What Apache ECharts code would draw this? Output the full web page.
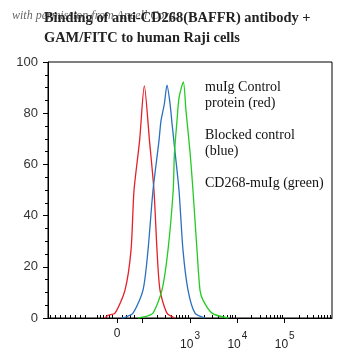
<!DOCTYPE html>
<html><head><meta charset="utf-8">
<script src="https://cdn.jsdelivr.net/npm/echarts@6/dist/echarts.min.js"></script>
<style>html,body{margin:0;padding:0;background:#fff}#c{width:350px;height:363px}</style>
</head><body><div id="c"></div>
<script>
// x positions are in axis display units (decades: 3 = 10^3, 4 = 10^4, 5 = 10^5; 0 label at ~1.458)
const redX  = [1.204,1.268,1.416,1.627,1.754,1.817,1.935,2.035,2.144,2.239,2.303,2.366,2.514,2.683];
const redY  = [0,1,1.9,10.9,26.5,49.8,69.3,90.7,69.3,49.8,26.5,10.9,1.9,0];
const blueX = [1.563,1.627,1.796,2.007,2.113,2.218,2.345,2.387,2.457,2.514,2.577,2.62,2.683,2.768,2.852,2.958,3.106,3.317];
const blueY = [0,0.3,1.9,10.9,26.5,49.8,69.3,77,83.5,91,84,76,65,49.8,26.5,10.9,1.9,0];
const greenX = [1.901,2.049,2.218,2.408,2.535,2.645,2.67,2.725,2.768,2.859,2.915,3.0,3.063,3.148,3.211,3.275,3.465,3.803];
const greenY = [0,0.5,1.9,10.9,26.5,49.8,64,77,86,92.2,81,65,49.8,26.5,10.9,7,1.9,0];

const xLabelPos = [1.458, 3, 4, 5];
const xLabelText = ['0', '10^3', '10^4', '10^5'];
const xMajorTicks = [1.458, 2, 3, 4, 5];
const xLinTicks = [0.042,0.148,0.254,0.359,0.465,0.570,0.676,0.782,1.035,1.099,1.162,1.225,1.289,1.352,1.563,1.648,1.732,1.817];
const yTicks = [0, 20, 40, 60, 80, 100];

const legendLines = ['muIg Control','protein (red)','','Blocked control','(blue)','','CD268-muIg (green)'];
const titleText = 'Binding of anti-CD268(BAFFR) antibody +\nGAM/FITC to human Raji cells';
const underText = 'with permission from Ancell Corp.';

const logMinor = [];
for (let k = 2; k <= 5; k++) for (let m = 2; m <= 9; m++) { const v = k + Math.log10(m); if (v < 6) logMinor.push(+v.toFixed(4)); }
const xMinorTicks = xLinTicks.concat(logMinor);

const zip = (a, b) => a.map((v, i) => [v, b[i]]);

const chart = echarts.init(document.getElementById('c'), null, {renderer: 'canvas'});
const baseX = {type: 'value', min: 0, max: 6, gridIndex: 0, splitLine: {show: false}};
chart.setOption({
  animation: false,
  title: [
    {text: underText, left: 12, top: 10, padding: 0, z: 1, textStyle: {fontFamily: 'Liberation Serif', fontStyle: 'italic', fontWeight: 'normal', fontSize: 12, color: '#666'}},
    {text: titleText, left: 44, top: 8, padding: 0, z: 5, textStyle: {fontFamily: 'Liberation Serif', fontWeight: 'bold', fontSize: 14.4, lineHeight: 20, color: '#222'}}
  ],
  grid: {left: 48, top: 62, right: 18, bottom: 45, show: true, borderColor: '#000', borderWidth: 1, backgroundColor: 'transparent'},
  xAxis: [
    Object.assign({}, baseX, {
      axisLine: {show: true, onZero: false, lineStyle: {color: '#000', width: 1}},
      axisTick: {show: true, length: 5, customValues: xMajorTicks, lineStyle: {color: '#000'}},
      axisLabel: {show: true, customValues: xLabelPos, margin: 10, color: '#222', fontFamily: 'Liberation Sans', fontSize: 12,
        formatter: v => { const i = xLabelPos.findIndex(p => Math.abs(p - v) < 1e-6); const t = i >= 0 ? xLabelText[i] : ''; if (t.indexOf('^') < 0) return '{b|' + t + '}'; const p = t.split('^'); return '{s|' + p[0] + '}{u|' + p[1] + '}'; },
        rich: {b: {fontSize: 12, fontFamily: 'Liberation Sans', color: '#222'},
               s: {fontSize: 12, fontFamily: 'Liberation Sans', color: '#222', padding: [11, 0, 0, 0]},
               u: {fontSize: 10, fontFamily: 'Liberation Sans', color: '#222', padding: [0, 0, 6, 1]}}}
    }),
    Object.assign({}, baseX, {
      axisLine: {show: false},
      axisTick: {show: true, length: 3, customValues: xMinorTicks, lineStyle: {color: '#000'}},
      axisLabel: {show: false}
    })
  ],
  yAxis: {
    type: 'value', min: 0, max: 100, interval: 20,
    axisLine: {show: true, lineStyle: {color: '#000'}},
    axisTick: {show: true, length: 5, lineStyle: {color: '#000'}},
    minorTick: {show: true, splitNumber: 4, length: 3, lineStyle: {color: '#000'}},
    splitLine: {show: false},
    axisLabel: {margin: 10, color: '#333', fontFamily: 'Liberation Sans', fontSize: 13,
      formatter: v => yTicks.indexOf(v) >= 0 ? String(v) : ''}
  },
  graphic: legendLines.map((t, i) => ({type: 'text', left: 205, top: 80 + i * 16, style: {text: t, font: '14px "Liberation Serif"', fill: '#111'}})),
  series: [
    {type: 'line', data: zip(redX, redY), smooth: 0.25, showSymbol: false, lineStyle: {color: '#e4202a', width: 1.3}},
    {type: 'line', data: zip(blueX, blueY), smooth: 0.25, showSymbol: false, lineStyle: {color: '#2b6fc0', width: 1.3}},
    {type: 'line', data: zip(greenX, greenY), smooth: 0.25, showSymbol: false, lineStyle: {color: '#22cc22', width: 1.3}}
  ]
});
</script></body></html>
